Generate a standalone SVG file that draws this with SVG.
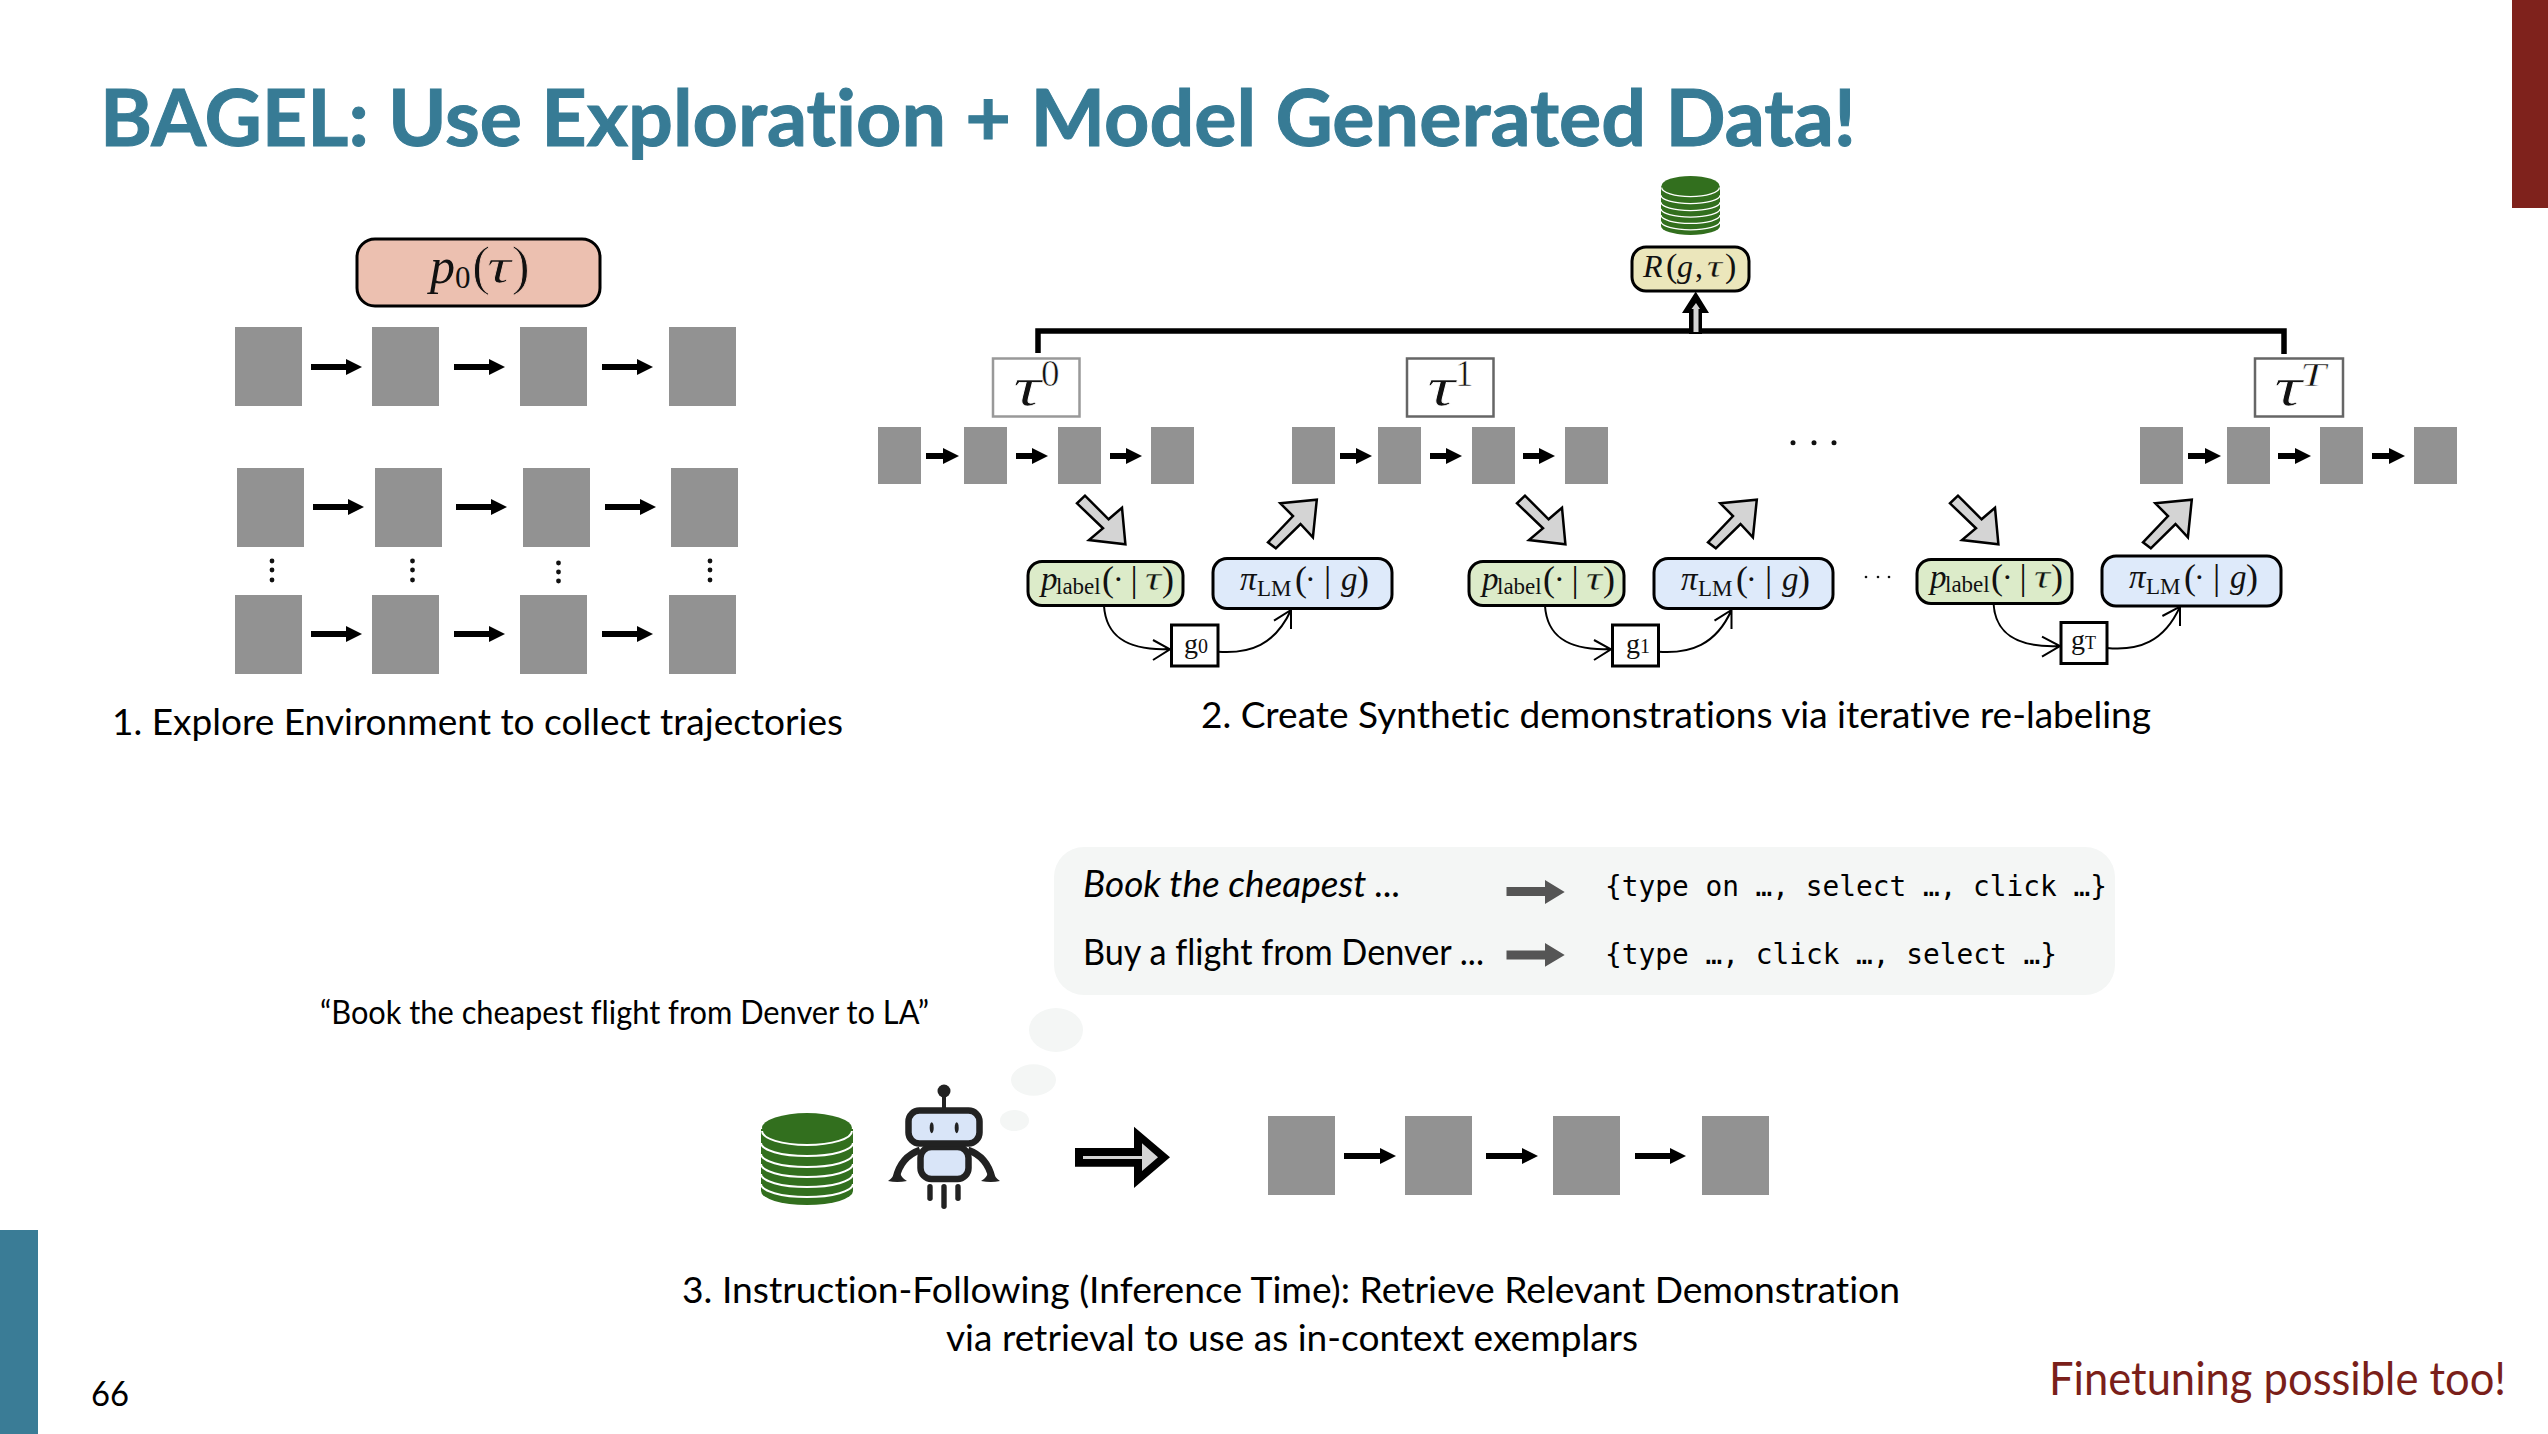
<svg xmlns="http://www.w3.org/2000/svg" xmlns:xlink="http://www.w3.org/1999/xlink" width="2548" height="1434" viewBox="0 0 2548 1434">
<style>
.cal{font-family:"Lato","Noto Sans",sans-serif;fill:#000;font-variant-ligatures:none}
.m{font-family:"Liberation Serif",serif;fill:#111}
.i{font-style:italic}
.st{fill:#929292}
.ar{stroke:#000;stroke-width:6;fill:none}
.mono{font-family:"DejaVu Sans Mono","Liberation Mono",monospace;font-size:28px;fill:#000}
.box{stroke:#000;stroke-width:3}
.tb{fill:#fff;stroke-width:2.5}
.gb{fill:#fff;stroke:#000;stroke-width:3}
.cv{fill:none;stroke:#000;stroke-width:2}
.blk{fill:#d4d4d4;stroke:#000;stroke-width:2.5}
.bub{fill:#f4f6f5}
.rb{fill:#d9e5f8;stroke:#222;stroke-width:6.5}
.dark{fill:#222}
.g1{fill:#555}
.tw{stroke:#fff;stroke-width:.7}
.tw2{stroke:#fff;stroke-width:.6}
.tp{stroke:#ecc0b0;stroke-width:.7}
.tp2{stroke:#ecc0b0;stroke-width:.9}
.tr{stroke:#ebe6bb;stroke-width:.3}
.tg{stroke:#dcebc9;stroke-width:.35}
</style>
<defs>
<marker id="h" markerUnits="userSpaceOnUse" markerWidth="17" markerHeight="17" refX="1" refY="8" orient="auto"><path d="M0 0L16 8L0 16Z" fill="#000"/></marker>
<symbol id="db" viewBox="0 0 92 92">
<path d="M0 16V78A46 14 0 0 0 92 78V16Z" fill="#326f1e"/>
<ellipse cx="46" cy="15" rx="45" ry="15" fill="#326f1e"/>
<path d="M1 18A45 14 0 0 0 91 18M0 30A46 13 0 0 0 92 30M0 41A46 13 0 0 0 92 41M0 51A46 13 0 0 0 92 51M0 61A46 13 0 0 0 92 61M0 71A46 13 0 0 0 92 71" fill="none" stroke="#fff" stroke-width="2"/>
</symbol>
<path id="dr" d="M1085 495.7L1077 503.3L1103 528.3L1089 540L1125.4 544.3L1122 507.7L1108.6 519.3Z"/>
<path id="ur" d="M1275.8 548.3L1268 542.3L1293 516L1280.3 503.3L1316.8 499.7L1312.9 537.3L1300.5 524Z"/>
</defs>
<rect width="2548" height="1434" fill="#fff"/>
<g id="slide-frame">
<rect x="2512" y="0" width="36" height="208" fill="#7f221c"/>
<rect x="0" y="1230" width="38" height="204" fill="#3a7c96"/>
</g>
<text id="title" x="100" y="146" class="cal" font-weight="700" font-size="78" style="fill:#377b95;stroke:#377b95;stroke-width:1" textLength="1756" lengthAdjust="spacingAndGlyphs">BAGEL: Use Exploration + Model Generated Data!</text>
<text id="page" x="91" y="1406" class="cal" font-size="34" textLength="38" lengthAdjust="spacingAndGlyphs">66</text>
<text id="note" x="2049" y="1395" class="cal" font-size="46" style="fill:#7a1f1a" textLength="457" lengthAdjust="spacingAndGlyphs">Finetuning possible too!</text>

<g id="p0-node">
<rect x="357" y="239" width="243" height="67" rx="18" fill="#ecc0b0" class="box"/>
<text class="m i" font-size="50" x="430" y="283">p</text>
<text class="m" font-size="31" x="455" y="288">0</text>
<text class="m tp2" font-size="55" x="472" y="284">(</text>
<text class="m i tp" font-size="50" x="487" y="283" textLength="24" lengthAdjust="spacingAndGlyphs">τ</text>
<text class="m tp2" font-size="55" x="511.500" y="284">)</text>
</g>

<g id="explore-row-1">
<rect class="st" x="235" y="327" width="67" height="79"/><rect class="st" x="372" y="327" width="67" height="79"/><rect class="st" x="520" y="327" width="67" height="79"/><rect class="st" x="669" y="327" width="67" height="79"/>
</g>
<g id="explore-row-2">
<rect class="st" x="237" y="468" width="67" height="79"/><rect class="st" x="375" y="468" width="67" height="79"/><rect class="st" x="523" y="468" width="67" height="79"/><rect class="st" x="671" y="468" width="67" height="79"/>
</g>
<g id="explore-row-3">
<rect class="st" x="235" y="595" width="67" height="79"/><rect class="st" x="372" y="595" width="67" height="79"/><rect class="st" x="520" y="595" width="67" height="79"/><rect class="st" x="669" y="595" width="67" height="79"/>
</g>
<g id="explore-dots" fill="#111">
<circle cx="272" cy="561" r="2.4"/><circle cx="272" cy="570" r="2.4"/><circle cx="272" cy="580" r="2.4"/>
<circle cx="412.5" cy="561" r="2.4"/><circle cx="412.5" cy="570" r="2.4"/><circle cx="412.5" cy="580" r="2.4"/>
<circle cx="558.5" cy="563" r="2.4"/><circle cx="558.5" cy="572" r="2.4"/><circle cx="558.5" cy="581" r="2.4"/>
<circle cx="710" cy="561" r="2.4"/><circle cx="710" cy="570" r="2.4"/><circle cx="710" cy="580" r="2.4"/>
</g>
<text id="cap1" x="112" y="735" class="cal" font-size="36" textLength="731" lengthAdjust="spacingAndGlyphs">1. Explore Environment to collect trajectories</text>

<g id="db-top"><use xlink:href="#db" href="#db" x="1661" y="176" width="59" height="59"/></g>
<g id="reward-node">
<rect x="1632" y="247" width="117" height="44" rx="14" fill="#ebe6bb" class="box"/>
<text class="m i" font-size="32" x="1643" y="277">R</text>
<text class="m" font-size="34" x="1666" y="277">(</text>
<text class="m i" font-size="32" x="1677" y="277">g</text>
<text class="m" font-size="32" x="1695" y="277">,</text>
<text class="m i tr" font-size="32" x="1707" y="277" textLength="15" lengthAdjust="spacingAndGlyphs">τ</text>
<text class="m" font-size="34" x="1725" y="277">)</text>
</g>

<g id="tau0-node"><rect x="993" y="358.5" width="86.500" height="58" stroke="#999" class="tb"/>
<text class="m i tw" font-size="54" x="1013" y="405" textLength="28" lengthAdjust="spacingAndGlyphs">τ</text><text class="m tw2" font-size="37" x="1041" y="386">0</text></g>
<g id="tau1-node"><rect x="1407" y="358.5" width="86.500" height="58" stroke="#666" class="tb"/>
<text class="m i tw" font-size="54" x="1427" y="405" textLength="28" lengthAdjust="spacingAndGlyphs">τ</text><text class="m tw2" font-size="37" x="1455" y="386">1</text></g>
<g id="tauT-node"><rect x="2255" y="358.5" width="88" height="58" stroke="#666" class="tb"/>
<text class="m i tw" font-size="54" x="2274" y="405" textLength="28" lengthAdjust="spacingAndGlyphs">τ</text><text class="m i tw2" font-size="34" x="2300" y="386" textLength="26" lengthAdjust="spacingAndGlyphs">T</text></g>

<g id="traj-0"><rect class="st" x="878" y="427" width="43" height="57"/><rect class="st" x="964" y="427" width="43" height="57"/><rect class="st" x="1058" y="427" width="43" height="57"/><rect class="st" x="1151" y="427" width="43" height="57"/></g>
<g id="traj-1"><rect class="st" x="1292" y="427" width="43" height="57"/><rect class="st" x="1378" y="427" width="43" height="57"/><rect class="st" x="1472" y="427" width="43" height="57"/><rect class="st" x="1565" y="427" width="43" height="57"/></g>
<g id="traj-T"><rect class="st" x="2140" y="427" width="43" height="57"/><rect class="st" x="2227" y="427" width="43" height="57"/><rect class="st" x="2320" y="427" width="43" height="57"/><rect class="st" x="2414" y="427" width="43" height="57"/></g>
<g id="mid-dots" fill="#111"><circle cx="1793" cy="442.700" r="2.500"/><circle cx="1814" cy="442.700" r="2.500"/><circle cx="1834" cy="442.700" r="2.500"/>
<circle cx="1866" cy="577" r="1.300"/><circle cx="1878" cy="577" r="1.300"/><circle cx="1889" cy="577" r="1.300"/></g>

<g id="plabel-0">
<rect x="1028" y="561.500" width="155" height="44" rx="14" fill="#dcebc9" class="box"/>
<text class="m i" font-size="33" x="1041" y="590">p</text><text class="m" font-size="23" x="1056" y="594">label</text>
<text class="m" font-size="36" x="1102" y="591">(</text><text class="m" font-size="32" x="1113" y="590">·</text><text class="m" font-size="36" x="1130.500" y="591">|</text><text class="m i tg" font-size="33" x="1145" y="590" textLength="16" lengthAdjust="spacingAndGlyphs">τ</text><text class="m" font-size="36" x="1162" y="591">)</text>
</g>
<g id="plm-0">
<rect x="1213" y="558.500" width="179" height="50" rx="14" fill="#deeafa" class="box"/>
<text class="m i" font-size="33" x="1240" y="590">π</text><text class="m" font-size="23" x="1257" y="596">LM</text>
<text class="m" font-size="36" x="1295" y="591">(</text><text class="m" font-size="32" x="1305" y="590">·</text><text class="m" font-size="36" x="1324" y="591">|</text><text class="m i" font-size="33" x="1341" y="590">g</text><text class="m" font-size="36" x="1357" y="591">)</text>
</g>
<g id="plabel-1" transform="translate(441 0)">
<rect x="1028" y="561.500" width="155" height="44" rx="14" fill="#dcebc9" class="box"/>
<text class="m i" font-size="33" x="1041" y="590">p</text><text class="m" font-size="23" x="1056" y="594">label</text>
<text class="m" font-size="36" x="1102" y="591">(</text><text class="m" font-size="32" x="1113" y="590">·</text><text class="m" font-size="36" x="1130.500" y="591">|</text><text class="m i tg" font-size="33" x="1145" y="590" textLength="16" lengthAdjust="spacingAndGlyphs">τ</text><text class="m" font-size="36" x="1162" y="591">)</text>
</g>
<g id="plm-1" transform="translate(441 0)">
<rect x="1213" y="558.500" width="179" height="50" rx="14" fill="#deeafa" class="box"/>
<text class="m i" font-size="33" x="1240" y="590">π</text><text class="m" font-size="23" x="1257" y="596">LM</text>
<text class="m" font-size="36" x="1295" y="591">(</text><text class="m" font-size="32" x="1305" y="590">·</text><text class="m" font-size="36" x="1324" y="591">|</text><text class="m i" font-size="33" x="1341" y="590">g</text><text class="m" font-size="36" x="1357" y="591">)</text>
</g>
<g id="plabel-T" transform="translate(889 -2)">
<rect x="1028" y="561.500" width="155" height="44" rx="14" fill="#dcebc9" class="box"/>
<text class="m i" font-size="33" x="1041" y="590">p</text><text class="m" font-size="23" x="1056" y="594">label</text>
<text class="m" font-size="36" x="1102" y="591">(</text><text class="m" font-size="32" x="1113" y="590">·</text><text class="m" font-size="36" x="1130.500" y="591">|</text><text class="m i tg" font-size="33" x="1145" y="590" textLength="16" lengthAdjust="spacingAndGlyphs">τ</text><text class="m" font-size="36" x="1162" y="591">)</text>
</g>
<g id="plm-T" transform="translate(889 -2.500)">
<rect x="1213" y="558.500" width="179" height="50" rx="14" fill="#deeafa" class="box"/>
<text class="m i" font-size="33" x="1240" y="590">π</text><text class="m" font-size="23" x="1257" y="596">LM</text>
<text class="m" font-size="36" x="1295" y="591">(</text><text class="m" font-size="32" x="1305" y="590">·</text><text class="m" font-size="36" x="1324" y="591">|</text><text class="m i" font-size="33" x="1341" y="590">g</text><text class="m" font-size="36" x="1357" y="591">)</text>
</g>

<g id="g0-node"><rect x="1171.500" y="625" width="46.500" height="41" class="gb"/><text class="m" font-size="28" x="1184" y="653">g<tspan font-size="20">0</tspan></text></g>
<g id="g1-node"><rect x="1612.500" y="625" width="46" height="41" class="gb"/><text class="m" font-size="28" x="1626" y="653">g<tspan font-size="20">1</tspan></text></g>
<g id="gT-node"><rect x="2061" y="622.500" width="46" height="41" class="gb"/><text class="m" font-size="28" x="2071" y="649">g<tspan font-size="18">T</tspan></text></g>

<g id="thought-panel">
<rect x="1054" y="847" width="1061" height="148" rx="30" class="bub"/>
<ellipse cx="1056" cy="1030" rx="27" ry="22" class="bub"/>
<ellipse cx="1033.500" cy="1080" rx="22.500" ry="15.700" class="bub"/>
<ellipse cx="1014.500" cy="1120.500" rx="14.500" ry="10.500" class="bub"/>
<text class="cal" font-style="italic" font-size="36" x="1083" y="897" textLength="318" lengthAdjust="spacingAndGlyphs">Book the cheapest ...</text>
<text class="cal" font-size="36" x="1083" y="965" textLength="401" lengthAdjust="spacingAndGlyphs">Buy a flight from Denver ...</text>
<text class="mono" x="1605" y="896" textLength="502" lengthAdjust="spacingAndGlyphs">{type on …, select …, click …}</text>
<text class="mono" x="1605" y="964" textLength="452" lengthAdjust="spacingAndGlyphs">{type …, click …, select …}</text>
</g>

<g id="connectors">
<line class="ar" x1="311" y1="367" x2="347" y2="367" marker-end="url(#h)"/><line class="ar" x1="454" y1="367" x2="490" y2="367" marker-end="url(#h)"/><line class="ar" x1="602" y1="367" x2="638" y2="367" marker-end="url(#h)"/>
<line class="ar" x1="313" y1="507" x2="349" y2="507" marker-end="url(#h)"/><line class="ar" x1="456" y1="507" x2="492" y2="507" marker-end="url(#h)"/><line class="ar" x1="605" y1="507" x2="641" y2="507" marker-end="url(#h)"/>
<line class="ar" x1="311" y1="634" x2="347" y2="634" marker-end="url(#h)"/><line class="ar" x1="454" y1="634" x2="490" y2="634" marker-end="url(#h)"/><line class="ar" x1="602" y1="634" x2="638" y2="634" marker-end="url(#h)"/>
<line class="ar" x1="926" y1="456" x2="944" y2="456" marker-end="url(#h)"/><line class="ar" x1="1016" y1="456" x2="1033" y2="456" marker-end="url(#h)"/><line class="ar" x1="1110" y1="456" x2="1127" y2="456" marker-end="url(#h)"/>
<line class="ar" x1="1340" y1="456" x2="1357" y2="456" marker-end="url(#h)"/><line class="ar" x1="1430" y1="456" x2="1447" y2="456" marker-end="url(#h)"/><line class="ar" x1="1523" y1="456" x2="1540" y2="456" marker-end="url(#h)"/>
<line class="ar" x1="2188" y1="456" x2="2206" y2="456" marker-end="url(#h)"/><line class="ar" x1="2278" y1="456" x2="2296" y2="456" marker-end="url(#h)"/><line class="ar" x1="2372" y1="456" x2="2390" y2="456" marker-end="url(#h)"/>
<line class="ar" x1="1344" y1="1156" x2="1381" y2="1156" marker-end="url(#h)"/><line class="ar" x1="1486" y1="1156" x2="1523" y2="1156" marker-end="url(#h)"/><line class="ar" x1="1635" y1="1156" x2="1671" y2="1156" marker-end="url(#h)"/>
<path d="M1038 353V331H2284V354" fill="none" stroke="#000" stroke-width="5.500"/>
<path d="M1689 334V313H1682L1695.700 291.500L1709 313H1702V334Z" fill="#000"/>
<path d="M1693.500 332V309H1691.500L1696 303L1700 309H1698.500V332Z" fill="#d4d4d4"/>
<use xlink:href="#dr" href="#dr" class="blk"/><use xlink:href="#ur" href="#ur" class="blk"/>
<use xlink:href="#dr" href="#dr" class="blk" x="440"/><use xlink:href="#ur" href="#ur" class="blk" x="440"/>
<use xlink:href="#dr" href="#dr" class="blk" x="873"/><use xlink:href="#ur" href="#ur" class="blk" x="875"/>
<path class="cv" d="M1104 606C1106 635 1125 651 1170 649M1153 640L1170 649.300L1153 660"/>
<path class="cv" d="M1218 651.700C1250 654 1275 645 1291 610M1274 620.700L1291 610V629"/>
<path class="cv" d="M1545 606C1547 635 1566 651 1611 649M1594 640L1611 649.300L1594 660"/>
<path class="cv" d="M1658.500 651.700C1690 654 1716 645 1731.500 610M1714.500 620.700L1731.500 610V629"/>
<path class="cv" d="M1993.500 603C1995 632 2014 648 2060 646M2042 636.700L2060 646L2042 656.700"/>
<path class="cv" d="M2107 648C2139 651 2164 642 2180 606.700M2162.400 616L2180 606.700V626"/>
<path d="M1075 1148H1134V1126.700L1170 1157.300L1134 1188V1166.700H1075Z" fill="#000"/>
<path d="M1083 1156H1142V1143.300L1158 1157.300L1142 1171V1159H1083Z" fill="#d4d4d4"/>
<path class="g1" d="M1506.500 887H1545V880L1564.700 892L1545 904V896H1506.500Z"/>
<path class="g1" d="M1506.500 950.500H1545V943L1564.700 955L1545 966.700V959.500H1506.500Z"/>
</g>
<text id="cap2" x="1201" y="728" class="cal" font-size="36" textLength="950" lengthAdjust="spacingAndGlyphs">2. Create Synthetic demonstrations via iterative re-labeling</text>
<text id="instruction" x="320" y="1024" class="cal" font-size="32" textLength="609" lengthAdjust="spacingAndGlyphs">“Book the cheapest flight from Denver to LA”</text>

<g id="db-bottom"><use xlink:href="#db" href="#db" x="761" y="1113" width="92" height="92"/></g>
<g id="robot">
<circle cx="944" cy="1091" r="6.500" class="dark"/><rect x="942" y="1095" width="4" height="14" class="dark"/>
<path d="M920 1150C906 1155 899 1165 896 1178" fill="none" stroke="#222" stroke-width="7"/>
<path d="M968 1150C982 1155 989 1165 992 1178" fill="none" stroke="#222" stroke-width="7"/>
<path class="dark" d="M888 1181Q893 1178 895 1172L900 1172Q901 1178 907 1181Q897 1183 888 1181Z"/>
<path class="dark" d="M1000 1181Q995 1178 993 1172L988 1172Q987 1178 981 1181Q991 1183 1000 1181Z"/>
<rect x="920.500" y="1147" width="48" height="32" rx="11" class="rb"/>
<rect x="908.500" y="1110.500" width="71" height="33" rx="11" class="rb"/>
<ellipse cx="931.700" cy="1127.700" rx="2" ry="5.500" class="dark"/><ellipse cx="956.700" cy="1127.700" rx="2" ry="5.500" class="dark"/>
<rect x="927.300" y="1184" width="5.400" height="17" rx="2.700" class="dark"/><rect x="941.300" y="1184" width="5.400" height="25" rx="2.700" class="dark"/><rect x="955.300" y="1184" width="5.400" height="17" rx="2.700" class="dark"/>
</g>
<g id="traj-final"><rect class="st" x="1268" y="1116" width="67" height="79"/><rect class="st" x="1405" y="1116" width="67" height="79"/><rect class="st" x="1553" y="1116" width="67" height="79"/><rect class="st" x="1702" y="1116" width="67" height="79"/></g>
<text id="cap3a" x="682" y="1303" class="cal" font-size="36" textLength="1218" lengthAdjust="spacingAndGlyphs">3. Instruction-Following (Inference Time): Retrieve Relevant Demonstration</text>
<text id="cap3b" x="946" y="1351" class="cal" font-size="36" textLength="692" lengthAdjust="spacingAndGlyphs">via retrieval to use as in-context exemplars</text>
</svg>
